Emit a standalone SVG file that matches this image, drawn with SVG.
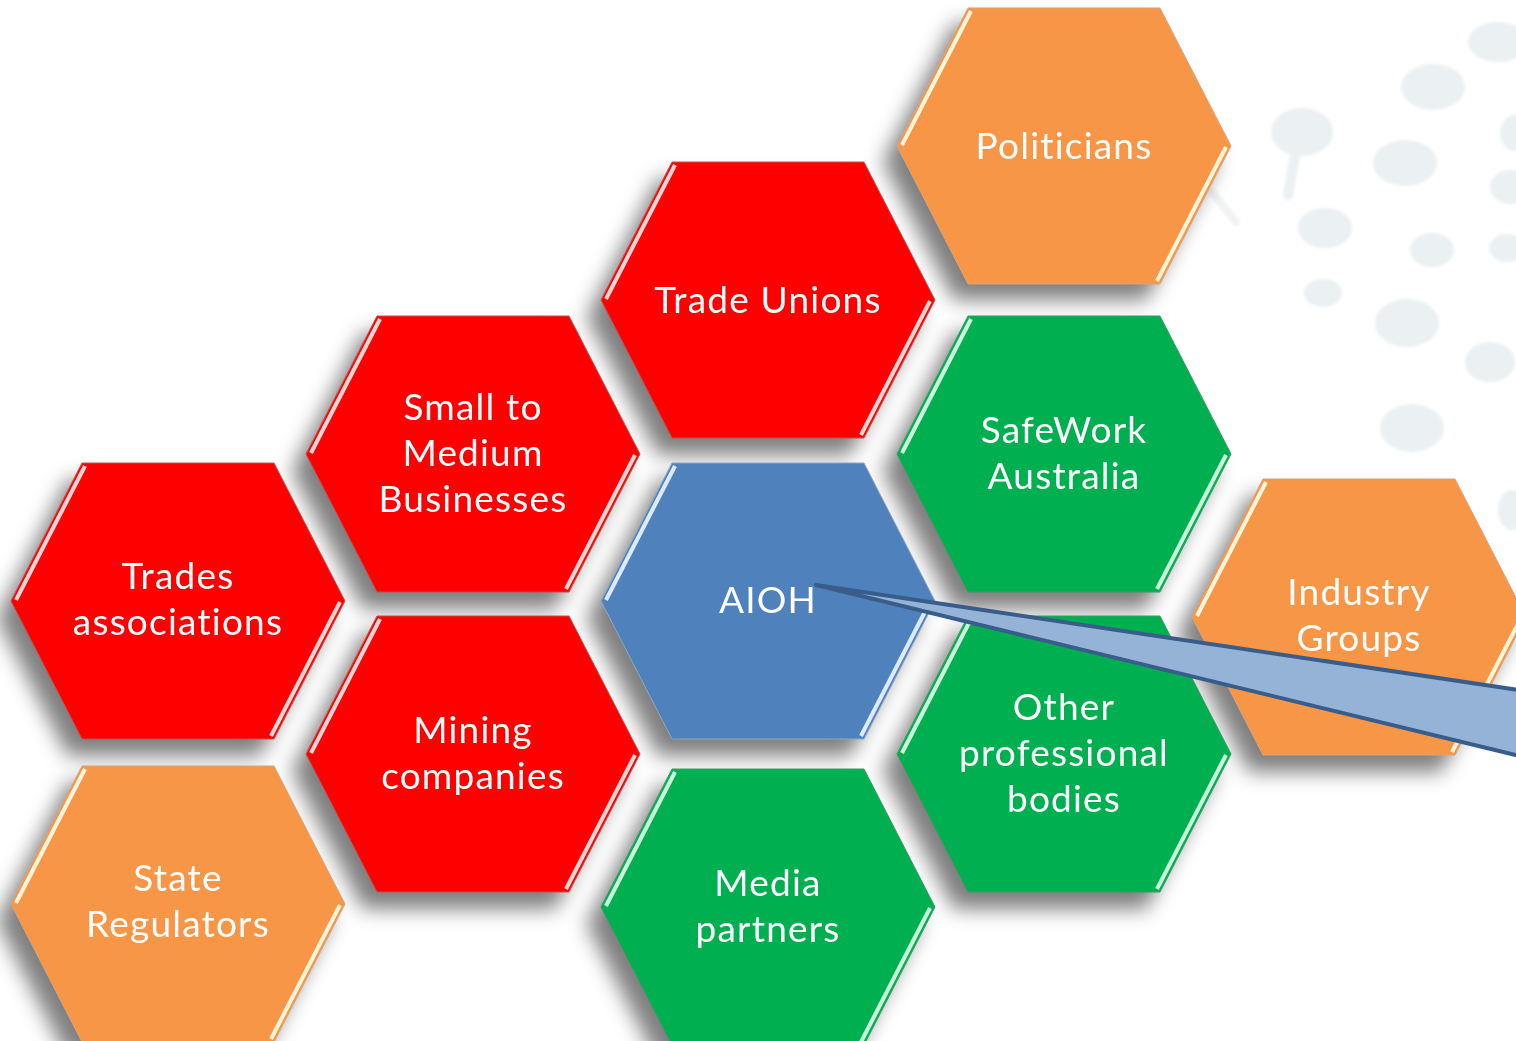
<svg xmlns="http://www.w3.org/2000/svg" width="1516" height="1041" viewBox="0 0 1516 1041">
  <style>
    .lbl { font-family: Lato, "Open Sans", "Liberation Sans", sans-serif; font-size: 37px; letter-spacing: 1.2px; fill: #ffffff; text-anchor: middle; }
    .red { fill: #fe0000; stroke: #c0504d; stroke-width: 1; }
    .org { fill: #f79646; stroke: #d9a47a; stroke-width: 1; }
    .grn { fill: #00b050; stroke: #3a9a63; stroke-width: 1; }
    .blu { fill: #4f81bd; stroke: #8ea6c4; stroke-width: 1; }
    .hl { fill: none; stroke-width: 4; stroke-linecap: butt; }
    .hl-red { stroke: #ffd6d6; }
    .hl-org { stroke: #fff4d8; }
    .hl-grn { stroke: #c9f7dc; }
    .hl-blu { stroke: #dcebfb; }
    .dot { fill: #ebf0f2; }
  </style>
  <defs>
    <path id="hex" d="M-167,0 L-96,-138 L96,-138 L167,0 L96,138 L-96,138 Z"/>
    <path id="hlA" d="M-162,-1 L-93,-135"/>
    <path id="hlB" d="M162,1 L93,135"/>
    <filter id="shadow" x="-20%" y="-20%" width="140%" height="140%">
      <feGaussianBlur stdDeviation="10"/>
    </filter>
    <filter id="soft" x="-20%" y="-20%" width="140%" height="140%">
      <feGaussianBlur stdDeviation="1.5"/>
    </filter>
  </defs>
  <rect width="1516" height="1041" fill="#ffffff"/>
  <g id="background-dots" filter="url(#soft)">
    <ellipse class="dot" cx="1498" cy="42" rx="30" ry="20"/>
    <ellipse class="dot" cx="1433" cy="87" rx="32" ry="23"/>
    <ellipse class="dot" cx="1302" cy="132" rx="31" ry="24"/>
    <path d="M1296,150 L1288,195" stroke="#ebf0f2" stroke-width="10" stroke-linecap="round"/>
    <path d="M1212,192 L1236,222" stroke="#f0f3f4" stroke-width="8" stroke-linecap="round"/>
    <ellipse class="dot" cx="1405" cy="163" rx="32" ry="23"/>
    <ellipse class="dot" cx="1516" cy="133" rx="16" ry="18"/>
    <ellipse class="dot" cx="1325" cy="228" rx="27" ry="20"/>
    <ellipse class="dot" cx="1432" cy="250" rx="22" ry="17"/>
    <ellipse class="dot" cx="1510" cy="187" rx="20" ry="17"/>
    <ellipse class="dot" cx="1507" cy="248" rx="18" ry="14"/>
    <ellipse class="dot" cx="1323" cy="293" rx="19" ry="14"/>
    <ellipse class="dot" cx="1407" cy="323" rx="32" ry="24"/>
    <ellipse class="dot" cx="1490" cy="362" rx="25" ry="20"/>
    <ellipse class="dot" cx="1412" cy="428" rx="32" ry="24"/>
    <ellipse class="dot" cx="1512" cy="510" rx="14" ry="20"/>
  </g>
  <g id="shadows" filter="url(#shadow)" fill="#000000" fill-opacity="0.5">
    <use href="#hex" transform="translate(1050,162)"/>
    <use href="#hex" transform="translate(754,317)"/>
    <use href="#hex" transform="translate(459,471)"/>
    <use href="#hex" transform="translate(1050,471)"/>
    <use href="#hex" transform="translate(164,618)"/>
    <use href="#hex" transform="translate(754,618)"/>
    <use href="#hex" transform="translate(1345,634)"/>
    <use href="#hex" transform="translate(459,771)"/>
    <use href="#hex" transform="translate(1050,771)"/>
    <use href="#hex" transform="translate(754,924)"/>
    <use href="#hex" transform="translate(164,921)"/>
  </g>
  <g id="node-politicians" transform="translate(1064,146)">
    <use href="#hex" class="org"/>
    <use href="#hlA" class="hl hl-org"/>
    <use href="#hlB" class="hl hl-org"/>
    <text class="lbl" x="0" y="13">Politicians</text>
  </g>
  <g id="node-trade-unions" transform="translate(768,300)">
    <use href="#hex" class="red"/>
    <use href="#hlA" class="hl hl-red"/>
    <use href="#hlB" class="hl hl-red"/>
    <text class="lbl" x="0" y="13">Trade Unions</text>
  </g>
  <g id="node-small-medium" transform="translate(473,454)">
    <use href="#hex" class="red"/>
    <use href="#hlA" class="hl hl-red"/>
    <use href="#hlB" class="hl hl-red"/>
    <text class="lbl" x="0" y="-34">Small to</text>
    <text class="lbl" x="0" y="12">Medium</text>
    <text class="lbl" x="0" y="58">Businesses</text>
  </g>
  <g id="node-safework" transform="translate(1064,454)">
    <use href="#hex" class="grn"/>
    <use href="#hlA" class="hl hl-grn"/>
    <use href="#hlB" class="hl hl-grn"/>
    <text class="lbl" x="0" y="-11">SafeWork</text>
    <text class="lbl" x="0" y="35">Australia</text>
  </g>
  <g id="node-trades-associations" transform="translate(178,601)">
    <use href="#hex" class="red"/>
    <use href="#hlA" class="hl hl-red"/>
    <use href="#hlB" class="hl hl-red"/>
    <text class="lbl" x="0" y="-12">Trades</text>
    <text class="lbl" x="0" y="34">associations</text>
  </g>
  <g id="node-aioh" transform="translate(768,601)">
    <use href="#hex" class="blu"/>
    <use href="#hlA" class="hl hl-blu"/>
    <use href="#hlB" class="hl hl-blu"/>
    <text class="lbl" x="0" y="12">AIOH</text>
  </g>
  <g id="node-industry-groups" transform="translate(1359,617)">
    <use href="#hex" class="org"/>
    <use href="#hlA" class="hl hl-org"/>
    <use href="#hlB" class="hl hl-org"/>
    <text class="lbl" x="0" y="-12">Industry</text>
    <text class="lbl" x="0" y="34">Groups</text>
  </g>
  <g id="node-other-professional" transform="translate(1064,754)">
    <use href="#hex" class="grn"/>
    <use href="#hlA" class="hl hl-grn"/>
    <use href="#hlB" class="hl hl-grn"/>
    <text class="lbl" x="0" y="-34">Other</text>
    <text class="lbl" x="0" y="12">professional</text>
    <text class="lbl" x="0" y="58">bodies</text>
  </g>
  <g id="node-mining" transform="translate(473,754)">
    <use href="#hex" class="red"/>
    <use href="#hlA" class="hl hl-red"/>
    <use href="#hlB" class="hl hl-red"/>
    <text class="lbl" x="0" y="-11">Mining</text>
    <text class="lbl" x="0" y="35">companies</text>
  </g>
  <g id="node-media-partners" transform="translate(768,907)">
    <use href="#hex" class="grn"/>
    <use href="#hlA" class="hl hl-grn"/>
    <use href="#hlB" class="hl hl-grn"/>
    <text class="lbl" x="0" y="-11">Media</text>
    <text class="lbl" x="0" y="35">partners</text>
  </g>
  <g id="node-state-regulators" transform="translate(178,904)">
    <use href="#hex" class="org"/>
    <use href="#hlA" class="hl hl-org"/>
    <use href="#hlB" class="hl hl-org"/>
    <text class="lbl" x="0" y="-13">State</text>
    <text class="lbl" x="0" y="33">Regulators</text>
  </g>
  <g id="connectors">
    <polygon points="816,585 1532,692 1532,759" fill="#95b3d7" stroke="#385d8a" stroke-width="4" stroke-linejoin="round"/>
  </g>
</svg>
